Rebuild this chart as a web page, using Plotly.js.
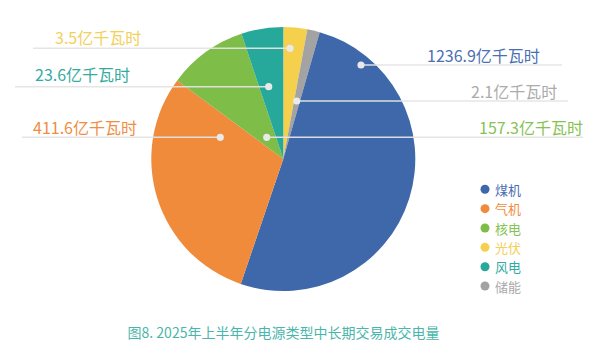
<!DOCTYPE html>
<html>
<head>
<meta charset="utf-8">
<script src="https://cdn.plot.ly/plotly-3.0.1.min.js"></script>
<style>html,body{margin:0;padding:0;background:#fff;}#chart{width:594px;height:364px;}</style>
</head>
<body>
<div id="chart"></div>
<script>
// Slices in drawing order (clockwise from 12 o'clock)
const sliceCategories = ['光伏', '储能', '煤机', '气机', '核电', '风电'];
// Slice shares (%)
const sliceShares = [2.92, 1.53, 50.78, 29.92, 9.72, 5.14];
// Value labels shown next to the pie
const valueLabels = ['3.5亿千瓦时', '2.1亿千瓦时', '1236.9亿千瓦时', '411.6亿千瓦时', '157.3亿千瓦时', '23.6亿千瓦时'];
// Legend order
const legendCategories = ['煤机', '气机', '核电', '光伏', '风电', '储能'];
const chartTitle = '图8. 2025年上半年分电源类型中长期交易成交电量';

const colors = {
  '煤机': '#3f68aa', '气机': '#ef8b3a', '核电': '#7dbd48',
  '光伏': '#f5d04c', '风电': '#26a99b', '储能': '#a3a3a3'
};
const textColors = {
  '煤机': '#4a6fb2', '气机': '#ef8d42', '核电': '#86c254',
  '光伏': '#f2d05a', '风电': '#34ab9f', '储能': '#ababab'
};

const W = 594, H = 364;
const px = x => x / W;
const py = y => 1 - y / H;

// leader layout (pixel positions): dot, line end, text centre
const leaders = {
  '光伏': {dot: [290, 48.3], lineEnd: 33, text: [97.5, 37]},
  '风电': {dot: [268.7, 86.7], lineEnd: 15, text: [82, 74.5]},
  '气机': {dot: [220.3, 137.3], lineEnd: 22, text: [85, 127]},
  '煤机': {dot: [361, 65], lineEnd: 562, text: [483.5, 54.5]},
  '储能': {dot: [296.7, 101], lineEnd: 568, text: [513.5, 91]},
  '核电': {dot: [266.7, 137.3], lineEnd: 583, text: [531, 127]}
};

const FONT = '"Noto Sans CJK SC", "Noto Sans", sans-serif';

const shapes = [];
const annotations = [];
sliceCategories.forEach((c, i) => {
  const L = leaders[c];
  shapes.push({type: 'line', xref: 'paper', yref: 'paper',
    x0: px(L.dot[0]), x1: px(L.lineEnd), y0: py(L.dot[1]), y1: py(L.dot[1]),
    line: {color: 'rgba(228,228,228,0.95)', width: 1.5}});
  const r = 3.6;
  shapes.push({type: 'circle', xref: 'paper', yref: 'paper',
    x0: px(L.dot[0] - r), x1: px(L.dot[0] + r), y0: py(L.dot[1] + r), y1: py(L.dot[1] - r),
    fillcolor: '#e9e9e9', line: {width: 0}});
  annotations.push({xref: 'paper', yref: 'paper', x: px(L.text[0]), y: py(L.text[1]),
    xanchor: 'center', yanchor: 'middle', showarrow: false, text: valueLabels[i],
    font: {family: FONT, size: 16, color: textColors[c]}});
});

// legend
const legendY0 = 189.3, legendStep = 19.35, legendDotX = 485, legendTextX = 493;
legendCategories.forEach((c, i) => {
  const y = legendY0 + i * legendStep;
  const r = 4.5;
  shapes.push({type: 'circle', xref: 'paper', yref: 'paper',
    x0: px(legendDotX - r), x1: px(legendDotX + r), y0: py(y + r), y1: py(y - r),
    fillcolor: colors[c], line: {width: 0}});
  annotations.push({xref: 'paper', yref: 'paper', x: px(legendTextX), y: py(y),
    xanchor: 'left', yanchor: 'middle', showarrow: false, text: c,
    font: {family: FONT, size: 13, color: textColors[c]}});
});

const cx = 283.3, cy = 159, R = 132;
const trace = {
  type: 'pie',
  labels: sliceCategories,
  values: sliceShares,
  sort: false,
  direction: 'clockwise',
  rotation: 0,
  textinfo: 'none',
  hoverinfo: 'label',
  showlegend: false,
  marker: {colors: sliceCategories.map(c => colors[c]), line: {width: 0}},
  domain: {x: [px(cx - R), px(cx + R)], y: [py(cy + R), py(cy - R)]}
};

const layout = {
  width: W, height: H,
  margin: {l: 0, r: 0, t: 0, b: 0},
  paper_bgcolor: '#ffffff',
  showlegend: false,
  title: {text: chartTitle, x: px(283.5), y: py(332.7), xanchor: 'center', yanchor: 'middle',
    xref: 'container', yref: 'container',
    font: {family: FONT, size: 14, color: '#4ab6ab'}},
  shapes: shapes,
  annotations: annotations
};

Plotly.newPlot('chart', [trace], layout, {displayModeBar: false, staticPlot: true});
</script>
</body>
</html>
